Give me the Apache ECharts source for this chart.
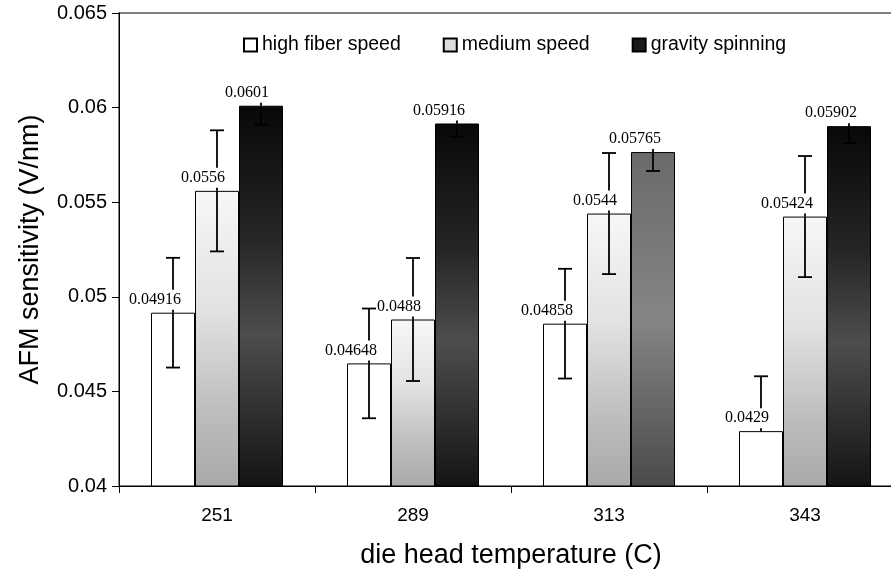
<!DOCTYPE html>
<html>
<head>
<meta charset="utf-8">
<script src="https://cdn.jsdelivr.net/npm/echarts@6/dist/echarts.min.js"></script>
<style>
html,body{margin:0;padding:0;background:#fff;}
#chart{width:891px;height:571px;}
</style>
</head>
<body>
<div id="chart"></div>
<script>
// ---- data ----
var categories = ['251', '289', '313', '343'];
var seriesNames = ['high fiber speed', 'medium speed', 'gravity spinning'];
var highFiber = [0.04916, 0.04648, 0.04858, 0.0429];
var mediumSpeed = [0.0556, 0.0488, 0.0544, 0.05424];
var gravitySpinning = [0.0601, 0.05916, 0.05765, 0.05902];
var highFiberErr = [0.0029, 0.0029, 0.0029, 0.0029];
var mediumSpeedErr = [0.0032, 0.00325, 0.0032, 0.0032];
var gravitySpinningErr = [0.001, 0.0007, 0.001, 0.0009];
var yTicks = [0.04, 0.045, 0.05, 0.055, 0.06, 0.065];
var yTickLabels = ['0.04', '0.045', '0.05', '0.055', '0.06', '0.065'];

// ---- styles ----
var BAR_W = 44;
var SANS = "'Liberation Sans', Arial, sans-serif";
var SERIF = "'Liberation Serif', 'Times New Roman', serif";
var Y_MIN = yTicks[0];
function grad(stops) {
  return new echarts.graphic.LinearGradient(0, 0, 0, 1, stops.map(function (s) { return { offset: s[0], color: s[1] }; }));
}
var mediumFill = grad([[0, '#f7f7f7'], [0.4, '#e2e2e2'], [0.75, '#bdbdbd'], [1, '#a9a9a9']]);
var darkFill = grad([[0, '#080808'], [0.35, '#262626'], [0.6, '#4d4d4d'], [1, '#141414']]);
var grayFill = grad([[0, '#6a6a6a'], [0.5, '#858585'], [1, '#4a4a4a']]);
var gravityFills = [darkFill, darkFill, grayFill, darkFill];

var allValues = [highFiber, mediumSpeed, gravitySpinning];
var allErrs = [highFiberErr, mediumSpeedErr, gravitySpinningErr];
var barColors = ['#ffffff', '#dcdcdc', '#1a1a1a'];

function barData(si) {
  return allValues[si].map(function (v, i) {
    var item = { value: v };
    if (si === 1) item.itemStyle = { color: mediumFill };
    if (si === 2) item.itemStyle = { color: gravityFills[i] };
    return item;
  });
}

function errSeries(si) {
  var data = allValues[si].map(function (v, i) { return [i, v, allErrs[si][i]]; });
  return {
    type: 'custom',
    name: seriesNames[si] + ' err',
    z: 5 + si,
    silent: true,
    data: data,
    encode: { x: 0, y: 1 },
    renderItem: function (params, api) {
      var idx = api.value(0), mean = api.value(1), err = api.value(2);
      var c = api.coord([idx, mean]);
      var top = api.coord([idx, mean + err]);
      var bot = api.coord([idx, mean - err]);
      var x = c[0] + (si - 1) * BAR_W;
      var cap = 7;
      var ls = { stroke: '#000', lineWidth: 1.8 };
      var label = String(allValues[si][params.dataIndex]);
      var children = [
        { type: 'line', shape: { x1: x, y1: top[1], x2: x, y2: c[1] }, style: ls },
        { type: 'line', shape: { x1: x - cap, y1: top[1], x2: x + cap, y2: top[1] }, style: ls }
      ];
      // minus branch reaching the axis floor is clipped away, as in the source
      if (mean - err > Y_MIN + 1e-6) {
        children.push({ type: 'line', shape: { x1: x, y1: c[1], x2: x, y2: bot[1] }, style: ls });
        children.push({ type: 'line', shape: { x1: x - cap, y1: bot[1], x2: x + cap, y2: bot[1] }, style: ls });
      }
      children.push({
        type: 'text',
        style: {
          text: label,
          x: x + 9,
          y: c[1] - 3,
          align: 'right',
          verticalAlign: 'bottom',
          font: '16px ' + SERIF,
          fill: '#000',
          backgroundColor: '#fff',
          padding: [2, 1, 2, 1]
        }
      });
      return { type: 'group', children: children };
    }
  };
}

var chart = echarts.init(document.getElementById('chart'), null, { renderer: 'canvas' });
var option = {
  animation: false,
  backgroundColor: '#fff',
  textStyle: { fontFamily: SANS },
  grid: {
    left: 119, top: 13, width: 784, height: 473,
    outerBoundsMode: 'none', containLabel: false,
    show: true, borderColor: '#555', borderWidth: 1.5, backgroundColor: 'transparent'
  },
  legend: {
    top: 35, left: 243, padding: 0, itemGap: 42, itemWidth: 13, itemHeight: 13,
    icon: 'rect',
    textStyle: { fontSize: 19.5, color: '#000', fontFamily: SANS },
    data: seriesNames
  },
  xAxis: {
    type: 'category',
    data: categories,
    name: 'die head temperature (C)',
    nameLocation: 'middle',
    nameGap: 56,
    nameTextStyle: { fontSize: 27, color: '#000', fontFamily: SANS },
    axisLine: { lineStyle: { color: '#000', width: 1 } },
    axisTick: { show: true, length: 7, lineStyle: { color: '#000' } },
    axisLabel: { fontSize: 19, color: '#000', margin: 20, fontFamily: SANS },
    splitLine: { show: false }
  },
  yAxis: {
    type: 'value',
    min: 0.04, max: 0.065, interval: 0.005,
    name: 'AFM sensitivity (V/nm)',
    nameLocation: 'middle',
    nameGap: 75,
    nameTextStyle: { fontSize: 27, color: '#000', fontFamily: SANS },
    axisLine: { show: true, lineStyle: { color: '#000', width: 1 } },
    axisTick: { show: true, length: 7, lineStyle: { color: '#000' } },
    axisLabel: {
      fontSize: 20, color: '#000', margin: 12, fontFamily: SANS,
      formatter: function (v) {
        for (var k = 0; k < yTicks.length; k++) if (Math.abs(v - yTicks[k]) < 1e-9) return yTickLabels[k];
        return '';
      }
    },
    splitLine: { show: false }
  },
  series: [0, 1, 2].map(function (si) {
    return {
      type: 'bar',
      name: seriesNames[si],
      data: barData(si),
      barWidth: BAR_W,
      barGap: '0%',
      z: 2,
      itemStyle: { color: barColors[si], borderColor: '#000', borderWidth: 1 }
    };
  }).concat([0, 1, 2].map(errSeries))
};
chart.setOption(option);
</script>
</body>
</html>
